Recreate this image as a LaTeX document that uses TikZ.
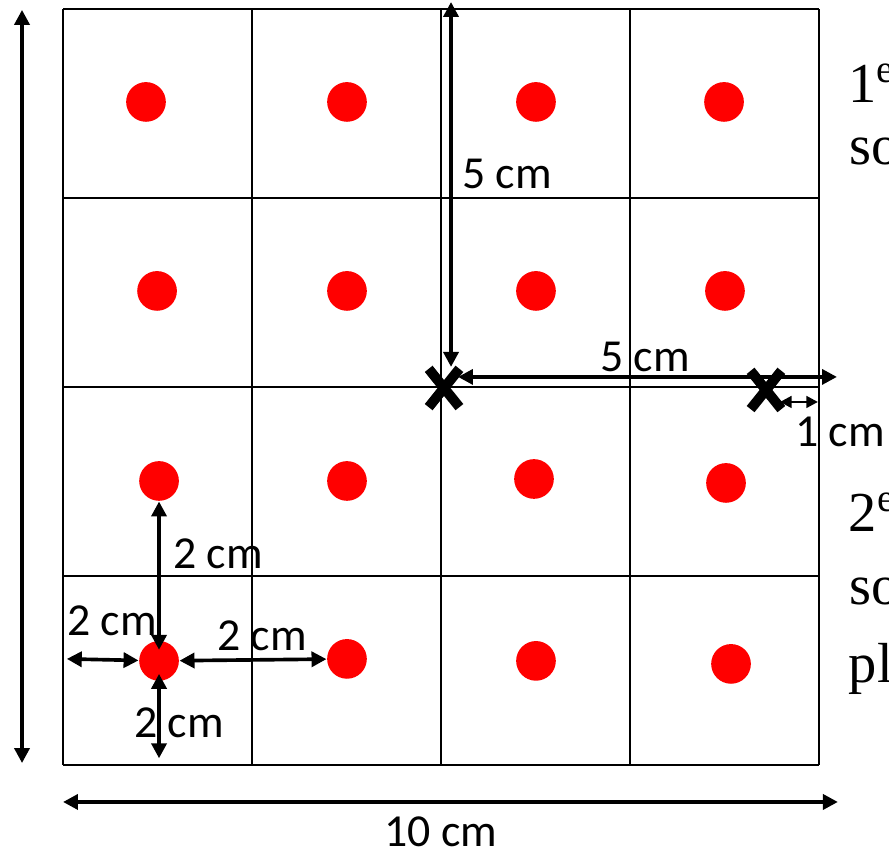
\documentclass[tikz,border=0pt]{standalone}
\usepackage{fontspec}
\usetikzlibrary{arrows.meta,shapes.misc}
\newfontfamily\labfont{Carlito}
\newfontfamily\notefont{Liberation Serif}

\begin{document}
\begin{tikzpicture}[
    reddot/.style={circle,fill=red,inner sep=0pt,minimum size=0.42cm},
    xmark/.style={cross out,draw,line width=3pt,inner sep=0pt,minimum width=0.22cm,minimum height=0.3cm},
    dimarrow/.style={{Triangle[length=4.5pt,width=4.5pt]}-{Triangle[length=4.5pt,width=4.5pt]},line width=1.1pt},
    smallarrow/.style={{Triangle[length=3.5pt,width=3.5pt]}-{Triangle[length=3.5pt,width=3.5pt]},line width=0.8pt},
    lab/.style={font=\labfont\fontsize{13.8}{16}\selectfont,inner sep=0pt},
    note/.style={font=\notefont\fontsize{17}{21}\selectfont,inner sep=0pt,anchor=base west}
]
    \useasboundingbox (-0.667,-0.921) rectangle (8.741,8.095);

    \coordinate (s0) at (-0.434,0.02);
    \coordinate (s1) at (-0.434,7.99);
    \coordinate (w0) at (0,-0.392);
    \coordinate (w1) at (8.2,-0.392);
    \coordinate (v5a) at (4.106,8.074);
    \coordinate (v5b) at (4.106,4.212);
    \coordinate (h5a) at (4.18,4.106);
    \coordinate (h5b) at (8.19,4.106);
    \coordinate (c1a) at (7.587,3.841);
    \coordinate (c1b) at (7.989,3.841);
    \coordinate (e1) at (0.04,1.122);
    \coordinate (e2) at (1.016,0.07);

    \draw[line width=0.6pt] (0,0) grid[step=2] (8,8);

    \node[reddot] (d11) at (0.878,7.016) {};
    \node[reddot] (d12) at (3.005,7.016) {};
    \node[reddot] (d13) at (5.005,7.016) {};
    \node[reddot] (d14) at (6.995,7.016) {};
    \node[reddot] (d21) at (0.995,5.016) {};
    \node[reddot] (d22) at (3.005,5.016) {};
    \node[reddot] (d23) at (5.005,5.016) {};
    \node[reddot] (d24) at (7.005,5.016) {};
    \node[reddot] (d31) at (1.016,3.005) {};
    \node[reddot] (d32) at (3.005,3.005) {};
    \node[reddot] (d33) at (4.984,3.026) {};
    \node[reddot] (d34) at (7.016,2.984) {};
    \node[reddot] (d41) at (1.016,1.101) {};
    \node[reddot] (d42) at (3.005,1.122) {};
    \node[reddot] (d43) at (5.005,1.101) {};
    \node[reddot] (d44) at (7.069,1.069) {};

    \node[xmark] (x1) at (4.032,3.989) {};
    \node[xmark] (x2) at (7.439,3.968) {};

    \draw[dimarrow] (s0) -- (s1);
    \draw[dimarrow] (w0) -- (w1);
    \draw[dimarrow] (v5a) -- (v5b);
    \draw[dimarrow] (h5a) -- (h5b);
    \draw[smallarrow] (c1a) -- (c1b);
    \draw[dimarrow, shorten <=-1mm] (d41) -- (d31);
    \draw[dimarrow] (e1) -- (d41);
    \draw[dimarrow] (d41) -- (d42);
    \draw[dimarrow, shorten <=-0.8mm] (d41) -- (e2);

    \node[lab] (l10) at (4.0,-0.709) {10 cm};
    \node[lab] (lv5) at (4.698,6.254) {5 cm};
    \node[lab] (lh5) at (6.159,4.317) {5 cm};
    \node[lab] (l1) at (8.222,3.524) {1 cm};
    \node[lab] (lu2) at (1.640,2.233) {2 cm};
    \node[lab] (ll2) at (0.519,1.524) {2 cm};
    \node[lab] (lr2) at (2.106,1.365) {2 cm};
    \node[lab] (lb2) at (1.228,0.444) {2 cm};

    \node[note] (n1a) at (8.30,7.005) {1\textsuperscript{e}};
    \node[note] (n1b) at (8.32,6.349) {so};
    \node[note] (n2a) at (8.31,2.466) {2\textsuperscript{e}};
    \node[note] (n2b) at (8.32,1.693) {so};
    \node[note] (n2c) at (8.31,0.868) {pl};
\end{tikzpicture}
\end{document}
